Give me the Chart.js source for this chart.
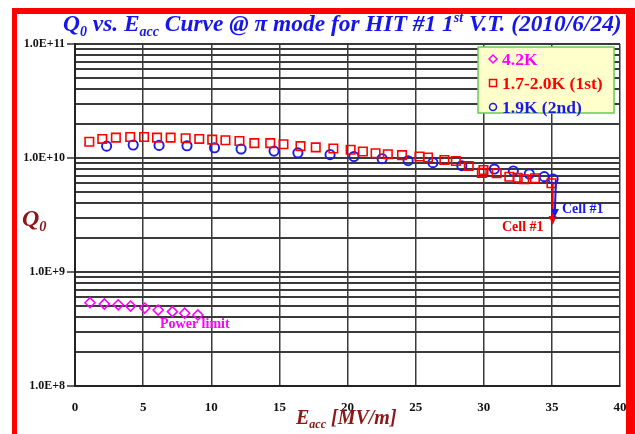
<!DOCTYPE html>
<html>
<head>
<title>Q0 vs Eacc - HIT #1</title>
<style>
    html, body { margin: 0; padding: 0; background: #fff; }
    canvas { display: block; }
</style>
</head>
<body>
<canvas id="qChart" width="635" height="434"></canvas>
<script src="https://cdn.jsdelivr.net/npm/chart.js"></script>
<script>
// 4.2K run (power limited)
const eacc42 = [1.10, 2.15, 3.17, 4.08, 5.12, 6.10, 7.15, 8.05, 9.02];
const q42 = [5.38e8, 5.24e8, 5.16e8, 5.03e8, 4.83e8, 4.64e8, 4.49e8, 4.35e8, 4.20e8];

// 1.7-2.0K, 1st test
const eacc1st = [1.05, 2.00, 3.00, 4.05, 5.07, 6.02, 7.02, 8.12, 9.12, 10.07, 11.04, 12.07,
    13.16, 14.33, 15.30, 16.55, 17.67, 18.96, 20.23, 21.13, 22.06, 22.96, 24.00, 25.28,
    25.91, 27.11, 27.95, 28.90, 29.86, 29.98, 30.95, 31.88, 32.49, 32.97, 33.76, 34.97];
const q1st = [1.39e10, 1.47e10, 1.51e10, 1.53e10, 1.53e10, 1.51e10, 1.51e10, 1.49e10, 1.47e10, 1.45e10, 1.43e10, 1.41e10,
    1.35e10, 1.35e10, 1.32e10, 1.27e10, 1.24e10, 1.21e10, 1.18e10, 1.14e10, 1.10e10, 1.08e10, 1.06e10, 1.03e10,
    1.01e10, 9.6e9, 9.4e9, 8.5e9, 7.4e9, 7.85e9, 7.35e9, 6.85e9, 6.7e9, 6.5e9, 6.64e9, 6.0e9];

// 1.9K, 2nd test
const eacc2nd = [2.32, 4.27, 6.17, 8.22, 10.24, 12.19, 14.61, 16.36, 18.72, 20.47, 22.54, 24.45,
    26.27, 28.39, 30.78, 32.17, 33.34, 34.44, 35.09];
const q2nd = [1.27e10, 1.30e10, 1.29e10, 1.28e10, 1.23e10, 1.20e10, 1.15e10, 1.11e10, 1.07e10, 1.03e10, 9.86e9, 9.47e9,
    9.1e9, 8.56e9, 8.0e9, 7.7e9, 7.24e9, 6.86e9, 6.55e9];

const seriesLabels = ['4.2K', '1.7-2.0K (1st)', '1.9K (2nd)'];
const yDecades = [1e8, 1e9, 1e10, 1e11];
const yMinor = [2, 3, 4, 5, 6, 7, 8, 9];

const SERIF = "'Liberation Serif', 'Times New Roman', serif";
const TITLE_BLUE = '#1616e8';
const AXIS_RED = '#8e1616';

function pts(xs, ys) {
    return xs.map((x, i) => ({ x: x, y: ys[i] }));
}

function isDecade(v) {
    return yDecades.some(d => Math.abs(v - d) / d < 1e-6);
}

// draws a run of text pieces with sub/superscripts
function drawRich(ctx, parts, x, y, size, style, color) {
    ctx.save();
    ctx.fillStyle = color;
    ctx.textBaseline = 'alphabetic';
    ctx.textAlign = 'left';
    let cx = x;
    parts.forEach(p => {
        const s = p.sub || p.sup ? size * 0.6 : size;
        const dy = p.sub ? size * 0.22 : (p.sup ? -size * 0.38 : 0);
        ctx.font = style + ' ' + s + 'px ' + SERIF;
        ctx.fillText(p.t, cx, y + dy);
        cx += ctx.measureText(p.t).width;
    });
    ctx.restore();
    return cx - x;
}

const framePlugin = {
    id: 'frame',
    beforeDraw(chart) {
        const ctx = chart.ctx;
        ctx.save();
        ctx.fillStyle = '#fff';
        ctx.fillRect(0, 0, chart.width, chart.height);
        ctx.fillStyle = '#ff0000';
        ctx.fillRect(12, 8, 623, 6);
        ctx.fillRect(12, 8, 5, 426);
        ctx.fillRect(626, 8, 9, 426);
        ctx.restore();
    }
};

const notesPlugin = {
    id: 'notes',
    afterDraw(chart) {
        const ctx = chart.ctx;
        const xs = chart.scales.x, ys = chart.scales.y;

        // title
        drawRich(ctx, [
            { t: 'Q' }, { t: '0', sub: true }, { t: ' vs. E' }, { t: 'acc', sub: true },
            { t: ' Curve @ \u03c0 mode for HIT #1 1' }, { t: 'st', sup: true }, { t: ' V.T. (2010/6/24)' }
        ], 63, 31, 23.4, 'italic bold', TITLE_BLUE);

        // axis titles
        drawRich(ctx, [{ t: 'Q' }, { t: '0', sub: true }], 22, 226, 24, 'italic bold', AXIS_RED);
        drawRich(ctx, [{ t: 'E' }, { t: 'acc', sub: true }, { t: ' [MV/m]' }], 296, 424, 20, 'italic bold', AXIS_RED);

        // annotations
        ctx.save();
        ctx.font = 'bold 14px ' + SERIF;
        ctx.textBaseline = 'middle';
        ctx.fillStyle = '#ff00ff';
        ctx.fillText('Power limit', xs.getPixelForValue(6.24), ys.getPixelForValue(3.5e8));
        ctx.fillStyle = '#ee0000';
        ctx.fillText('Cell #1', xs.getPixelForValue(31.34), ys.getPixelForValue(2.48e9));
        ctx.fillStyle = '#1a1ae6';
        ctx.fillText('Cell #1', xs.getPixelForValue(35.74), ys.getPixelForValue(3.57e9));
        ctx.restore();

        const arrow = (x0, y0, x1, y1, color) => {
            const px0 = xs.getPixelForValue(x0), py0 = ys.getPixelForValue(y0);
            const px1 = xs.getPixelForValue(x1), py1 = ys.getPixelForValue(y1);
            const a = Math.atan2(py1 - py0, px1 - px0);
            ctx.save();
            ctx.strokeStyle = color;
            ctx.fillStyle = color;
            ctx.lineWidth = 2;
            ctx.beginPath();
            ctx.moveTo(px0, py0);
            ctx.lineTo(px1 - 6 * Math.cos(a), py1 - 6 * Math.sin(a));
            ctx.stroke();
            ctx.beginPath();
            ctx.moveTo(px1, py1);
            ctx.lineTo(px1 - 9 * Math.cos(a) + 4 * Math.sin(a), py1 - 9 * Math.sin(a) - 4 * Math.cos(a));
            ctx.lineTo(px1 - 9 * Math.cos(a) - 4 * Math.sin(a), py1 - 9 * Math.sin(a) + 4 * Math.cos(a));
            ctx.closePath();
            ctx.fill();
            ctx.restore();
        };
        arrow(35.06, 6.0e9, 35.06, 2.58e9, '#ee0000');
        arrow(35.3, 6.4e9, 35.2, 2.98e9, '#1a1ae6');

        // legend box
        ctx.save();
        ctx.fillStyle = '#ffffcc';
        ctx.strokeStyle = '#66cc55';
        ctx.lineWidth = 1.5;
        ctx.fillRect(478, 47, 136, 66);
        ctx.strokeRect(478, 47, 136, 66);
        ctx.font = 'bold 17.5px ' + SERIF;
        ctx.textBaseline = 'middle';
        chart.data.datasets.forEach((ds, i) => {
            const ly = 59 + i * 24;
            const lx = 493;
            ctx.strokeStyle = ds.borderColor;
            ctx.lineWidth = 1.5;
            ctx.beginPath();
            if (ds.pointStyle === 'rectRot') {
                ctx.moveTo(lx, ly - 4); ctx.lineTo(lx + 4, ly); ctx.lineTo(lx, ly + 4); ctx.lineTo(lx - 4, ly); ctx.closePath();
            } else if (ds.pointStyle === 'rect') {
                ctx.rect(lx - 3.5, ly - 3.5, 7, 7);
            } else {
                ctx.arc(lx, ly, 3.5, 0, Math.PI * 2);
            }
            ctx.stroke();
            ctx.fillStyle = ds.borderColor;
            ctx.fillText(ds.label, 502, ly + 1);
        });
        ctx.restore();
    }
};

new Chart(document.getElementById('qChart').getContext('2d'), {
    type: 'scatter',
    data: {
        datasets: [
            {
                label: seriesLabels[0], data: pts(eacc42, q42),
                pointStyle: 'rectRot', pointRadius: 5, borderWidth: 1.6,
                borderColor: '#ff00ff', backgroundColor: 'rgba(0,0,0,0)'
            },
            {
                label: seriesLabels[1], data: pts(eacc1st, q1st),
                pointStyle: 'rect', pointRadius: 6, borderWidth: 1.6,
                borderColor: '#ff0000', backgroundColor: 'rgba(0,0,0,0)'
            },
            {
                label: seriesLabels[2], data: pts(eacc2nd, q2nd),
                pointStyle: 'circle', pointRadius: 4.6, borderWidth: 1.9,
                borderColor: '#1a1ae6', backgroundColor: 'rgba(0,0,0,0)'
            }
        ]
    },
    options: {
        responsive: false,
        animation: false,
        devicePixelRatio: 1,
        layout: { padding: { left: 0, right: 15, top: 44, bottom: 0 } },
        plugins: {
            legend: { display: false },
            title: { display: false },
            tooltip: { enabled: false }
        },
        scales: {
            x: {
                type: 'linear', min: 0, max: 40,
                ticks: { stepSize: 5, padding: 14, color: '#111', font: { family: SERIF, size: 13, weight: 'bold' } },
                grid: { color: '#3a3a3a', lineWidth: 1.5, drawTicks: false },
                border: { color: '#222', width: 2 },
                afterFit(scale) {
                    scale.height = 48;
                    scale.paddingLeft = 0;
                    scale.paddingRight = 0;
                }
            },
            y: {
                type: 'logarithmic', min: 1e8, max: 1e11,
                afterBuildTicks(scale) {
                    const t = [];
                    yDecades.forEach((d, i) => {
                        t.push({ value: d, major: true });
                        if (i < yDecades.length - 1) yMinor.forEach(m => t.push({ value: d * m }));
                    });
                    scale.ticks = t;
                },
                ticks: {
                    autoSkip: false, padding: 2, color: '#111',
                    font: { family: SERIF, size: 12, weight: 'bold' },
                    callback: v => isDecade(v) ? v.toExponential(1).toUpperCase() : ''
                },
                grid: {
                    color: '#3a3a3a', lineWidth: 2, tickLength: 8,
                    tickColor: c => c.tick && isDecade(c.tick.value) ? '#666' : 'rgba(0,0,0,0)'
                },
                border: { color: '#222', width: 2 },
                afterFit(scale) { scale.width = 75; }
            }
        }
    },
    plugins: [framePlugin, notesPlugin]
});
</script>
</body>
</html>
